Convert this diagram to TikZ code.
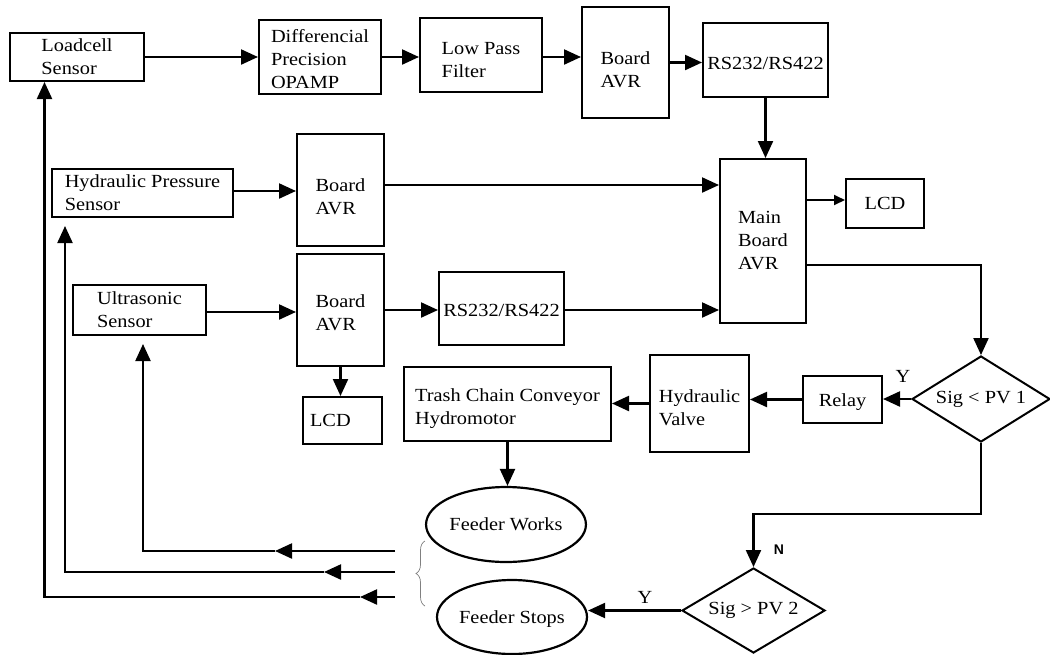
\documentclass[tikz,border=0pt]{standalone}
\usepackage{fontspec}
\setmainfont{Liberation Serif}[FakeStretch=1.1]
\newfontfamily\sansN{Liberation Sans}
\usetikzlibrary{arrows.meta,shapes.geometric,decorations.pathreplacing,calc}
\newcommand\dfont{\fontsize{18.5}{23}\selectfont}
\newcommand\dn[1]{\rule{0pt}{#1pt}}
\begin{document}
\begin{tikzpicture}[x=1pt,y=-1pt,
  box/.style 2 args={draw, line width=2pt, align=left, inner sep=0pt, font=\dfont, minimum width=#1pt, minimum height=#2pt},
  ell/.style 2 args={draw, ellipse, line width=2.2pt, inner sep=0pt, font=\dfont, minimum width=#1pt, minimum height=#2pt},
  dia/.style 2 args={draw, diamond, aspect=1.6, line width=2pt, inner sep=0pt, font=\dfont, minimum width=#1pt, minimum height=#2pt},
  arr/.style={-{Triangle[length=17pt,width=15pt]}, line width=2.2pt},
  sarr/.style={-{Triangle[length=11pt,width=10pt]}, line width=1.8pt},
  lbl/.style={font=\dfont, inner sep=0pt}]
\useasboundingbox (0,0) rectangle (1050,654);

% top row
\node[box={134}{48}] (load) at (77,57) {Loadcell\\Sensor};
\node[box={122}{74}] (diff) at (320,57) {\dn{17.6}Differencial\\Precision\\OPAMP};
\node[box={122}{74}] (lpf) at (481,55) {\dn{22.6}Low Pass\\Filter};
\node[box={87}{111}] (avr1) at (625.5,62.5) {\dn{26.6}Board\\AVR};
\node[box={125}{74}] (rs1) at (765.5,60) {\dn{18.6}RS232/RS422};

% middle
\node[box={181}{48}] (hps) at (142.5,193) {Hydraulic Pressure\\Sensor};
\node[box={87}{112}] (avr2) at (340.5,190) {\dn{26.6}Board\\AVR};
\node[box={133}{50}] (us) at (139.5,310) {Ultrasonic\\Sensor};
\node[box={87}{112}] (avr3) at (340.5,310) {\dn{18.6}Board\\AVR};
\node[box={125}{73}] (rs2) at (501.5,308.5) {\dn{16.6}RS232/RS422};
\node[box={86}{164}] (main) at (763,241) {Main\\Board\\AVR};
\node[box={78}{49}] (lcd1) at (885,203.5) {LCD};

% lower
\node[box={79}{47}, text width=65pt, inner xsep=7pt] (lcd2) at (342.5,420.5) {LCD};
\node[box={207}{74}] (trash) at (507.5,404) {\dn{22.6}Trash Chain Conveyor\\Hydromotor};
\node[box={99}{97}] (hv) at (699.5,403.5) {\dn{20.6}Hydraulic\\Valve};
\node[box={79}{47}] (relay) at (842.5,399.5) {\dn{18.6}Relay};
\node[dia={138}{86}] (d1) at (981,399) {Sig < PV 1};
\node[dia={143}{85}] (d2) at (753.5,610.5) {Sig > PV 2};
\node[ell={150}{75}] (fw) at (506,524.5) {Feeder Works};
\node[ell={150}{74}] (fs) at (512,617) {\dn{16.6}Feeder Stops};

% labels
\node[lbl] (y1) at (903,376) {Y};
\node[lbl] (y2) at (645,597) {Y};
\node[font=\sansN\bfseries\fontsize{14}{16}\selectfont, inner sep=0pt] (n1) at (779,550) {N};

% top chain
\draw[arr] (load.east) -- (load.east -| diff.west);
\draw[arr] (diff.east) -- (diff.east -| lpf.west);
\draw[arr] (lpf.east |- diff.east) -- (diff.east -| avr1.west);
\draw[arr] (avr1.east) -- (avr1.east -| rs1.west);
\draw[arr] (rs1.south) -- (rs1.south |- main.north);

% middle chains
\draw[arr] ([yshift=2pt]hps.east) -- ([yshift=2pt]hps.east -| avr2.west);
\draw[arr] ([yshift=5pt]avr2.east) -- ([yshift=5pt]avr2.east -| main.west);
\draw[arr] ([yshift=-2pt]us.east) -- ([yshift=-2pt]us.east -| avr3.west);
\draw[arr] (avr3.east) -- (avr3.east -| rs2.west);
\draw[arr] ([yshift=-1.5pt]rs2.east) -- ([yshift=-1.5pt]rs2.east -| main.west);
\draw[sarr] ([yshift=41pt]main.east) -- ([yshift=41pt]main.east -| lcd1.west);
\draw[arr] ([yshift=-24pt]main.east) -| (d1.north);
\draw[arr] (avr3.south) -- (avr3.south |- lcd2.north);

% lower chain
\draw[arr] (d1.west) -- (d1.west -| relay.east);
\draw[arr] (relay.west) -- (relay.west -| hv.east);
\draw[arr] (hv.west) -- (hv.west -| trash.east);
\draw[arr] (trash.south) -- (trash.south |- fw.north);
\draw[arr] (d1.south) -- ++(0,71) -| (d2.north);
\draw[arr] (d2.west) -- (d2.west -| fs.east);

% brace
\draw[gray, line width=0.7pt, decorate, decoration={brace, amplitude=9pt, aspect=0.5}] (425,606) -- (425,541);

% feedback lines
\coordinate (f1) at (395,551);
\coordinate (m1) at (275,551);
\coordinate (k1) at (143,551);
\coordinate (f2) at (395,572);
\coordinate (m2) at (324,572);
\coordinate (k2) at (65,572);
\coordinate (f3) at (395,597);
\coordinate (m3) at (360,597);
\coordinate (k3) at (44.5,597);
\draw[arr] (f1) -- (m1);
\draw[arr, shorten >=8pt] (m1) -- (k1) -- (k1 |- us.south);
\draw[arr] (f2) -- (m2);
\draw[arr, shorten >=8pt] (m2) -- (k2) -- (k2 |- hps.south);
\draw[arr] (f3) -- (m3);
\draw[arr] (m3) -- (k3) -- (k3 |- load.south);
\end{tikzpicture}
\end{document}
